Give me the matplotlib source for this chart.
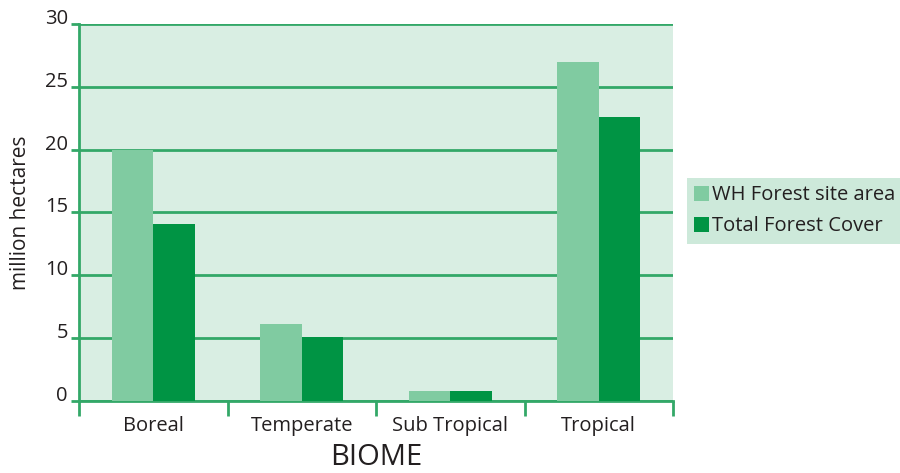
import numpy as np
import matplotlib.pyplot as plt

# values (million hectares)
biomes = ["Boreal", "Temperate", "Sub Tropical", "Tropical"]
wh_site_area = [20.0, 6.1, 0.8, 27.0]
total_forest_cover = [14.1, 5.1, 0.8, 22.6]
y_ticks = [0, 5, 10, 15, 20, 25, 30]

light_green = "#80cba1"
dark_green = "#009444"
grid_green = "#33a868"
bg_green = "#d9eee3"
text_col = "#231f20"

plt.rcParams["font.family"] = ["Open Sans", "DejaVu Sans"]

fig = plt.figure(figsize=(9, 4.73), dpi=100)
ax = fig.add_axes([0.0878, 0.1522, 0.6600, 0.7971])
ax.set_facecolor(bg_green)

x = np.arange(len(biomes))
w = 0.28
ax.bar(x - w / 2, wh_site_area, w, color=light_green, label="WH Forest site area", zorder=3)
ax.bar(x + w / 2, total_forest_cover, w, color=dark_green, label="Total Forest Cover", zorder=3)

ax.set_xlim(-0.5, len(biomes) - 0.5)
ax.set_ylim(0, 30)
ax.set_yticks(y_ticks)
ax.yaxis.grid(True, color=grid_green, linewidth=2, zorder=1)
ax.set_axisbelow(True)

# category labels centred, tick marks at the separators
ax.set_xticks(x)
ax.set_xticklabels(biomes, fontsize=14.5, color=text_col)
ax.set_xticks(np.arange(len(biomes) + 1) - 0.5, minor=True)
ax.tick_params(axis="x", which="major", length=0, pad=11)
ax.tick_params(axis="x", which="minor", length=11, width=2, color=grid_green, direction="out")
ax.tick_params(axis="y", length=6, width=2, color=grid_green, labelsize=14.5,
               labelcolor=text_col, pad=2)
for lbl in ax.get_yticklabels():
    lbl.set_verticalalignment("baseline")

for side in ["top", "right"]:
    ax.spines[side].set_visible(False)
ax.spines["left"].set_color(grid_green)
ax.spines["left"].set_linewidth(2)
ax.spines["bottom"].set_color(grid_green)
ax.spines["bottom"].set_linewidth(2)

ax.set_ylabel("million hectares", fontsize=15, color=text_col, labelpad=10)
ax.set_xlabel("BIOME", fontsize=21, color=text_col, labelpad=5)

leg = fig.legend(loc="center left", bbox_to_anchor=(0.7633, 0.554), fontsize=14.5,
                 frameon=True, fancybox=False, handlelength=0.72, handleheight=0.78,
                 handletextpad=0.15, borderpad=0.35, labelspacing=0.55, borderaxespad=0)
leg.get_frame().set_facecolor("#cde9da")
leg.get_frame().set_edgecolor("none")
leg.get_frame().set_alpha(1)
for t in leg.get_texts():
    t.set_color(text_col)

fig.savefig("out.png", dpi=100)
